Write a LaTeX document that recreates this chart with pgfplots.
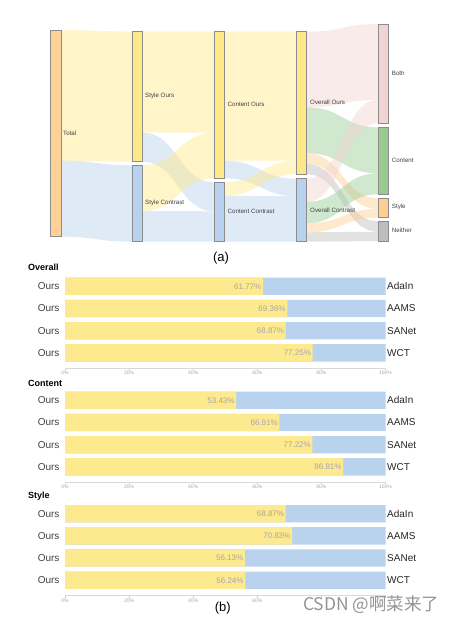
\documentclass[border=0pt]{standalone}
\usepackage{pgfplots}
\pgfplotsset{compat=1.18}
\usepackage{pgfplotstable}
\usepackage{fontspec}
\setmainfont{Liberation Sans}
\newfontfamily\cjk{Noto Sans CJK SC}

\definecolor{nyellow}{HTML}{FFE887}
\definecolor{nblue}{HTML}{B8D1EE}
\definecolor{ntotal}{HTML}{FFD196}
\definecolor{npink}{HTML}{F2D3D1}
\definecolor{ngreen}{HTML}{97CB91}
\definecolor{norange}{HTML}{FFCE91}
\definecolor{ngray}{HTML}{BDBDBD}
\definecolor{nborder}{HTML}{8C8C8C}
\definecolor{byellow}{HTML}{FDEA8F}
\definecolor{bblue}{HTML}{B9D2EE}
\definecolor{labgray}{HTML}{A6A6A6}
\definecolor{txt}{HTML}{404040}

\pgfplotstableread{
y val total name
4 61.77 100 AdaIn
3 69.36 100 AAMS
2 68.87 100 SANet
1 77.25 100 WCT
}\overalltab
\pgfplotstableread{
y val total name
4 53.43 100 AdaIn
3 66.91 100 AAMS
2 77.22 100 SANet
1 86.81 100 WCT
}\contenttab
\pgfplotstableread{
y val total name
4 68.87 100 AdaIn
3 70.83 100 AAMS
2 56.13 100 SANet
1 56.24 100 WCT
}\styletab

% Sankey flow: x1, xmid, x2, y1top, y1bot, y2top, y2bot, colour
\newcommand{\flow}[8]{%
 \fill[#8, fill opacity=0.45] (axis cs:#1,#4) .. controls (axis cs:#2,#4) and (axis cs:#2,#6) .. (axis cs:#3,#6) -- (axis cs:#3,#7) .. controls (axis cs:#2,#7) and (axis cs:#2,#5) .. (axis cs:#1,#5) -- cycle;}
% Sankey node: x1, x2, ytop, ybot, colour
\newcommand{\snode}[5]{%
 \addplot[fill=#5, draw=nborder, line width=0.7pt] coordinates {(#1,#3) (#2,#3) (#2,#4) (#1,#4)} -- cycle;}

\tikzset{
 sk/.style={anchor=west, font=\fontsize{6.2}{7}\selectfont, text=txt, inner sep=0pt},
 ttl/.style={anchor=west, font=\bfseries\fontsize{9}{10}\selectfont, inner sep=0pt},
}
\pgfplotsset{
 /pgf/number format/assume math mode=true,
 barpanel/.style={
  scale only axis, width=320.5pt, height=93pt, anchor=north west,
  xmin=0, xmax=100, ymin=0.31, ymax=4.5, clip=false,
  xbar, bar shift=0pt, bar width=17.3pt,
  axis x line*=bottom, axis y line*=left,
  x axis line style={draw=gray!30, line width=0.8pt, -},
  y axis line style={draw=none},
  ytick={1,2,3,4}, yticklabels={Ours,Ours,Ours,Ours},
  ytick style={draw=none},
  yticklabel style={font=\fontsize{10}{12}\selectfont, text=txt},
  xtick={0,20,40,60,80,100},
  xticklabel={\pgfmathprintnumber{\tick}\%},
  xticklabel style={font=\fontsize{5}{6}\selectfont, text=labgray, inner sep=1pt},
  xtick style={draw=gray!40, line width=0.5pt},
  extra x tick style={draw=gray!40, line width=0.5pt},
  tick align=outside, major tick length=2pt,
 },
 valplot/.style={xbar, bar shift=0pt, fill=byellow, draw=none,
  nodes near coords={\pgfmathprintnumber[fixed,fixed zerofill,precision=2]{\pgfplotspointmeta}\%},
  point meta=x,
  every node near coord/.append style={anchor=east, font=\fontsize{8}{9}\selectfont, text=labgray, inner sep=1.5pt}},
 totplot/.style={xbar, bar shift=0pt, fill=bblue, draw=none,
  nodes near coords, point meta=explicit symbolic,
  every node near coord/.append style={anchor=west, font=\fontsize{10}{12}\selectfont, text=black!85, inner sep=1.5pt}},
}

\begin{document}
\begin{tikzpicture}
\begin{axis}[at={(0,0)}, anchor=south west, scale only axis, width=455pt, height=623pt,
  xmin=0, xmax=455, ymin=0, ymax=623, y dir=reverse, hide axis, clip=false]
\path (rel axis cs:0,0) rectangle (rel axis cs:1,1);
% flows
\flow{61}{96.65}{132.3}{30}{160.7}{31.7}{161.7}{nyellow}
\flow{61}{96.65}{132.3}{160.7}{236.7}{165.3}{241.7}{nblue}
\flow{142.3}{178.3}{214.3}{31.7}{132.7}{31.7}{132.7}{nyellow}
\flow{142.3}{178.3}{214.3}{132.7}{161.7}{182.3}{211.3}{nblue}
\flow{142.3}{178.3}{214.3}{165.3}{211}{132.7}{178.3}{nyellow}
\flow{142.3}{178.3}{214.3}{211}{241.7}{211.3}{241.7}{nblue}
\flow{224.3}{260.5}{296.7}{31.7}{160.7}{31.7}{160.7}{nyellow}
\flow{224.3}{260.5}{296.7}{160.7}{178.3}{178.7}{196.3}{nblue}
\flow{224.3}{260.5}{296.7}{182.3}{195.7}{160.7}{174.3}{nyellow}
\flow{224.3}{260.5}{296.7}{195.7}{241.7}{196.3}{241.7}{nblue}
\flow{306.7}{342.5}{378.3}{31.7}{107.3}{24}{99.7}{npink}
\flow{306.7}{342.5}{378.3}{107.3}{153.3}{127.3}{173.3}{ngreen}
\flow{306.7}{342.5}{378.3}{153.3}{164}{198.3}{209}{norange}
\flow{306.7}{342.5}{378.3}{164}{174.3}{221.3}{231.7}{ngray}
\flow{306.7}{342.5}{378.3}{178.7}{201.7}{99.7}{123.3}{npink}
\flow{306.7}{342.5}{378.3}{201.7}{223.3}{173.3}{194.3}{ngreen}
\flow{306.7}{342.5}{378.3}{223.3}{232.3}{209}{217.7}{norange}
\flow{306.7}{342.5}{378.3}{232.3}{241.7}{231.7}{241}{ngray}
% nodes
\snode{50}{61}{30}{236.7}{ntotal}
\snode{132.3}{142.3}{31.7}{161.7}{nyellow}
\snode{132.3}{142.3}{165.3}{241.7}{nblue}
\snode{214.3}{224.3}{31.7}{178.3}{nyellow}
\snode{214.3}{224.3}{182.3}{241.7}{nblue}
\snode{296.7}{306.7}{31.7}{174.3}{nyellow}
\snode{296.7}{306.7}{178.7}{241.7}{nblue}
\snode{378.3}{388.7}{24}{123.3}{npink}
\snode{378.3}{388.7}{127.3}{194.3}{ngreen}
\snode{378.3}{388.7}{198.3}{217.7}{norange}
\snode{378.3}{388.7}{221.3}{241}{ngray}
% node labels
\node[sk] at (axis cs:63,133.3) {Total};
\node[sk] at (axis cs:145,96) {Style Ours};
\node[sk] at (axis cs:145,203.3) {Style Contrast};
\node[sk] at (axis cs:227.5,104.7) {Content Ours};
\node[sk] at (axis cs:227.5,211.7) {Content Contrast};
\node[sk] at (axis cs:310,102.7) {Overall Ours};
\node[sk] at (axis cs:310,210) {Overall Contrast};
\node[sk] at (axis cs:391.7,73.3) {Both};
\node[sk] at (axis cs:391.7,160.7) {Content};
\node[sk] at (axis cs:391.7,207.3) {Style};
\node[sk] at (axis cs:391.7,230.7) {Neither};
% captions and titles
\node[font=\fontsize{13}{14}\selectfont, inner sep=0pt] at (axis cs:221,258) {(a)};
\node[font=\fontsize{13}{14}\selectfont, inner sep=0pt] at (axis cs:222.7,608.3) {(b)};
\node[ttl] at (axis cs:28,267.7) {Overall};
\node[ttl] at (axis cs:28,383.7) {Content};
\node[ttl] at (axis cs:28,496.3) {Style};
\end{axis}

\begin{axis}[barpanel, at={(65pt,347.8pt)}]
\addplot[totplot] table[x=total,y=y,meta=name]{\overalltab};
\addplot[valplot] table[x=val,y=y]{\overalltab};
\end{axis}

\begin{axis}[barpanel, at={(65pt,233.8pt)}]
\addplot[totplot] table[x=total,y=y,meta=name]{\contenttab};
\addplot[valplot] table[x=val,y=y]{\contenttab};
\end{axis}

% Style panel: the 80% and 100% tick labels lie under the watermark in the reference
\begin{axis}[barpanel, at={(65pt,120.4pt)}, xtick={0,20,40,60}, extra x ticks={80,100}, extra x tick labels={}]
\addplot[totplot] table[x=total,y=y,meta=name]{\styletab};
\addplot[valplot] table[x=val,y=y]{\styletab};
\end{axis}

\node[anchor=west, font=\cjk\fontsize{17.5}{18}\selectfont, text=black!42, inner sep=0pt] at (303pt,18pt) {CSDN @啊菜来了};
\end{tikzpicture}
\end{document}
